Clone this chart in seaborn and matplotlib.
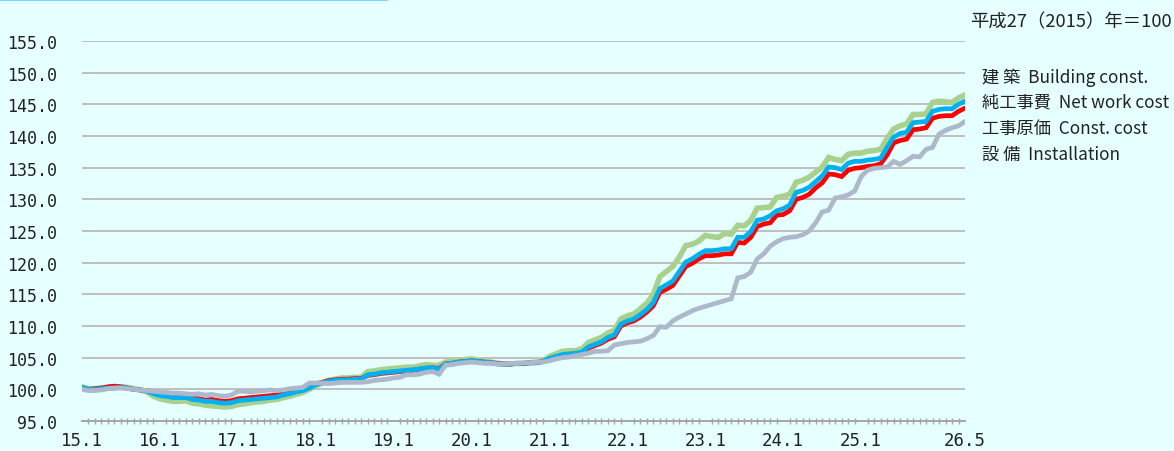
import numpy as np
import pandas as pd
import matplotlib
matplotlib.use("Agg")
import matplotlib.pyplot as plt
from matplotlib.lines import Line2D
from matplotlib.ticker import MultipleLocator
import seaborn as sns

sns.set_style("white")
plt.rcParams['font.family'] = ['Noto Sans CJK JP', 'DejaVu Sans']

# 月次指数 2015.1 - 2026.5（平成27年=100）
building = [
    100.4, 100.1, 100.1, 100.2, 100.3, 100.3, 100.4, 100.3, 100.1, 99.9, 99.6, 98.9,
    98.5, 98.3, 98.1, 98.1, 98.2, 97.8, 97.7, 97.5, 97.4, 97.3, 97.2, 97.3,
    97.6, 97.7, 97.9, 98.0, 98.1, 98.3, 98.4, 98.7, 98.9, 99.2, 99.5, 100.0,
    100.6, 101.0, 101.4, 101.6, 101.8, 101.8, 101.9, 101.9, 102.8, 102.9, 103.1, 103.2,
    103.3, 103.4, 103.5, 103.5, 103.7, 103.9, 103.8, 103.8, 104.3, 104.4, 104.6, 104.7,
    104.8, 104.6, 104.5, 104.3, 104.1, 104.0, 104.0, 104.1, 104.1, 104.2, 104.3, 104.5,
    105.2, 105.6, 106.0, 106.1, 106.1, 106.4, 107.4, 107.8, 108.2, 108.9, 109.3, 111.1,
    111.6, 111.9, 112.7, 113.6, 115.0, 117.8, 118.6, 119.4, 120.9, 122.7, 122.9, 123.4,
    124.3, 124.1, 124.0, 124.6, 124.5, 125.9, 125.8, 126.7, 128.6, 128.7, 128.8, 130.3,
    130.5, 130.8, 132.7, 133.0, 133.5, 134.3, 135.1, 136.6, 136.3, 136.1, 137.1, 137.3,
    137.3, 137.6, 137.7, 137.9, 139.6, 141.1, 141.6, 141.9, 143.4, 143.4, 143.5, 145.3,
    145.5, 145.4, 145.3, 146.0, 146.5,
]
net_work = [
    100.3, 100.0, 100.0, 100.1, 100.2, 100.2, 100.3, 100.2, 100.0, 99.9, 99.7, 99.3,
    99.0, 98.9, 98.7, 98.7, 98.7, 98.4, 98.3, 98.1, 98.1, 97.9, 97.8, 97.9,
    98.2, 98.3, 98.4, 98.5, 98.6, 98.7, 98.8, 99.1, 99.3, 99.6, 99.8, 100.2,
    100.7, 101.0, 101.3, 101.4, 101.5, 101.5, 101.6, 101.6, 102.3, 102.4, 102.6, 102.7,
    102.8, 102.9, 103.0, 103.1, 103.2, 103.4, 103.4, 103.2, 104.0, 104.1, 104.3, 104.4,
    104.5, 104.4, 104.3, 104.2, 104.0, 104.0, 104.0, 104.1, 104.1, 104.2, 104.2, 104.4,
    104.9, 105.2, 105.5, 105.6, 105.7, 105.9, 106.7, 107.1, 107.5, 108.2, 108.6, 110.3,
    110.8, 111.1, 111.8, 112.6, 113.7, 115.9, 116.5, 117.1, 118.6, 120.1, 120.6, 121.3,
    121.9, 121.9, 122.0, 122.2, 122.2, 124.0, 124.0, 124.9, 126.7, 126.9, 127.4, 128.2,
    128.5, 129.1, 131.1, 131.4, 131.9, 132.8, 133.7, 135.1, 135.0, 134.7, 135.7, 136.0,
    136.0, 136.2, 136.3, 136.5, 138.2, 139.8, 140.4, 140.6, 142.1, 142.2, 142.3, 143.9,
    144.2, 144.3, 144.3, 145.0, 145.5,
]
const_cost = [
    100.2, 100.0, 100.1, 100.2, 100.4, 100.5, 100.4, 100.2, 100.0, 99.9, 99.8, 99.5,
    99.2, 99.1, 98.9, 98.9, 98.9, 98.6, 98.5, 98.3, 98.4, 98.2, 98.1, 98.2,
    98.5, 98.6, 98.7, 98.8, 98.9, 99.0, 99.1, 99.3, 99.5, 99.8, 100.0, 100.3,
    100.9, 101.1, 101.4, 101.5, 101.6, 101.6, 101.7, 101.7, 102.2, 102.3, 102.5, 102.6,
    102.7, 102.8, 102.9, 103.0, 103.2, 103.3, 103.4, 103.3, 104.0, 104.1, 104.3, 104.4,
    104.5, 104.4, 104.3, 104.2, 104.1, 104.0, 104.0, 104.1, 104.1, 104.2, 104.2, 104.4,
    104.8, 105.1, 105.4, 105.5, 105.6, 105.8, 106.5, 106.9, 107.3, 107.9, 108.3, 110.0,
    110.5, 110.8, 111.4, 112.2, 113.2, 115.3, 115.8, 116.4, 117.9, 119.4, 119.9, 120.6,
    121.1, 121.1, 121.2, 121.4, 121.4, 123.2, 123.1, 124.0, 125.7, 126.1, 126.3, 127.5,
    127.6, 128.2, 130.0, 130.3, 130.8, 131.8, 132.6, 134.0, 133.9, 133.6, 134.6, 134.9,
    135.0, 135.2, 135.3, 135.6, 137.0, 138.9, 139.3, 139.5, 141.0, 141.1, 141.3, 142.8,
    143.1, 143.2, 143.2, 143.9, 144.4,
]
installation = [
    100.0, 99.8, 99.8, 99.9, 100.1, 100.2, 100.2, 100.1, 100.0, 99.9, 99.8, 99.7,
    99.6, 99.5, 99.4, 99.4, 99.3, 99.2, 99.3, 99.1, 99.2, 99.0, 98.9, 99.1,
    99.7, 99.7, 99.6, 99.7, 99.8, 99.9, 99.8, 99.9, 100.1, 100.2, 100.3, 101.0,
    101.0, 101.0, 100.9, 101.0, 101.1, 101.1, 101.1, 101.1, 101.2, 101.4, 101.5, 101.6,
    101.8, 101.9, 102.3, 102.3, 102.4, 102.7, 102.8, 102.4, 103.8, 103.9, 104.1, 104.2,
    104.3, 104.2, 104.1, 104.1, 104.0, 104.0, 104.1, 104.1, 104.2, 104.2, 104.3, 104.3,
    104.5, 104.8, 105.0, 105.1, 105.3, 105.5, 105.7, 106.0, 106.0, 106.1, 107.0, 107.2,
    107.4, 107.5, 107.6, 108.0, 108.5, 109.9, 109.8, 110.8, 111.4, 111.9, 112.4, 112.8,
    113.1, 113.4, 113.7, 114.0, 114.3, 117.6, 117.8, 118.5, 120.6, 121.4, 122.6, 123.3,
    123.8, 124.0, 124.1, 124.4, 125.0, 126.3, 128.0, 128.3, 130.2, 130.4, 130.7, 131.3,
    133.6, 134.6, 134.9, 135.0, 135.1, 136.0, 135.5, 136.1, 136.8, 136.7, 137.9, 138.2,
    140.3, 140.9, 141.3, 141.6, 142.3,
]

series_names = ["建 築  Building const.", "純工事費  Net work cost",
                "工事原価  Const. cost", "設 備  Installation"]
series_colors = ["#A9D18E", "#00B0F0", "#FF0000", "#ADB9CA"]
x_tick_labels = ["15.1", "16.1", "17.1", "18.1", "19.1", "20.1",
                 "21.1", "22.1", "23.1", "24.1", "25.1", "26.5"]
y_ticks = np.arange(95, 156, 5)

BG = "#E6FFFF"
months = np.arange(len(building))
df = pd.DataFrame({
    "month": months,
    series_names[0]: building,
    series_names[1]: net_work,
    series_names[2]: const_cost,
    series_names[3]: installation,
})

fig = plt.figure(figsize=(11.74, 4.52), dpi=100, facecolor=BG)
ax = fig.add_axes([82 / 1174, 30 / 452, 883 / 1174, 380 / 452])
ax.set_facecolor(BG)

# 描画順: 建築 → 工事原価 → 純工事費 → 設備
draw_order = [0, 2, 1, 3]
widths = [4.0, 3.4, 3.4, 3.4]
for i in draw_order:
    sns.lineplot(data=df, x="month", y=series_names[i], color=series_colors[i],
                 lw=widths[i], ax=ax, legend=False, solid_joinstyle="miter")

ax.set_xlim(0, months[-1])
ax.set_ylim(95, 155)
ax.set_yticks(y_ticks)
ax.set_yticklabels([f"{v:.1f}" for v in y_ticks], family="DejaVu Sans Mono",
                   fontsize=12, color="#222222")
ax.yaxis.grid(True, color="#BFBFBF", lw=1.4)
ax.set_axisbelow(True)

tick_pos = [(int(t.split(".")[0]) - 15) * 12 + int(t.split(".")[1]) - 1 for t in x_tick_labels]
ax.set_xticks(tick_pos)
ax.set_xticklabels(x_tick_labels, family="DejaVu Sans Mono", fontsize=12.5, color="#222222")
ax.xaxis.set_minor_locator(MultipleLocator(1))
ax.tick_params(axis="x", which="major", direction="out", length=5, width=1.3,
               color="#A6A6A6", pad=2)
ax.tick_params(axis="x", which="minor", direction="inout", length=4, width=1.0,
               color="#A6A6A6", bottom=True)
ax.tick_params(axis="y", length=0, pad=18)

for s in ["top", "right", "left"]:
    ax.spines[s].set_visible(False)
ax.spines["bottom"].set_color("#A6A6A6")
ax.spines["bottom"].set_linewidth(1.4)
ax.set_xlabel("")
ax.set_ylabel("")

# 単位と凡例
fig.text(1172 / 1174, 1 - 22 / 452, "平成27（2015）年＝100", ha="right", va="center",
         fontsize=13.2, color="#222222")
for name, ypx in zip(series_names, [78, 103, 129, 155]):
    fig.text(982 / 1174, 1 - ypx / 452, name, ha="left", va="center",
             fontsize=12.4, color="#222222")

fig.add_artist(Line2D([0, 387 / 1174], [1 - 1 / 452, 1 - 1 / 452],
                      color="#80D4F7", lw=1.5, transform=fig.transFigure))

fig.savefig("out.png", dpi=100, facecolor=BG)
